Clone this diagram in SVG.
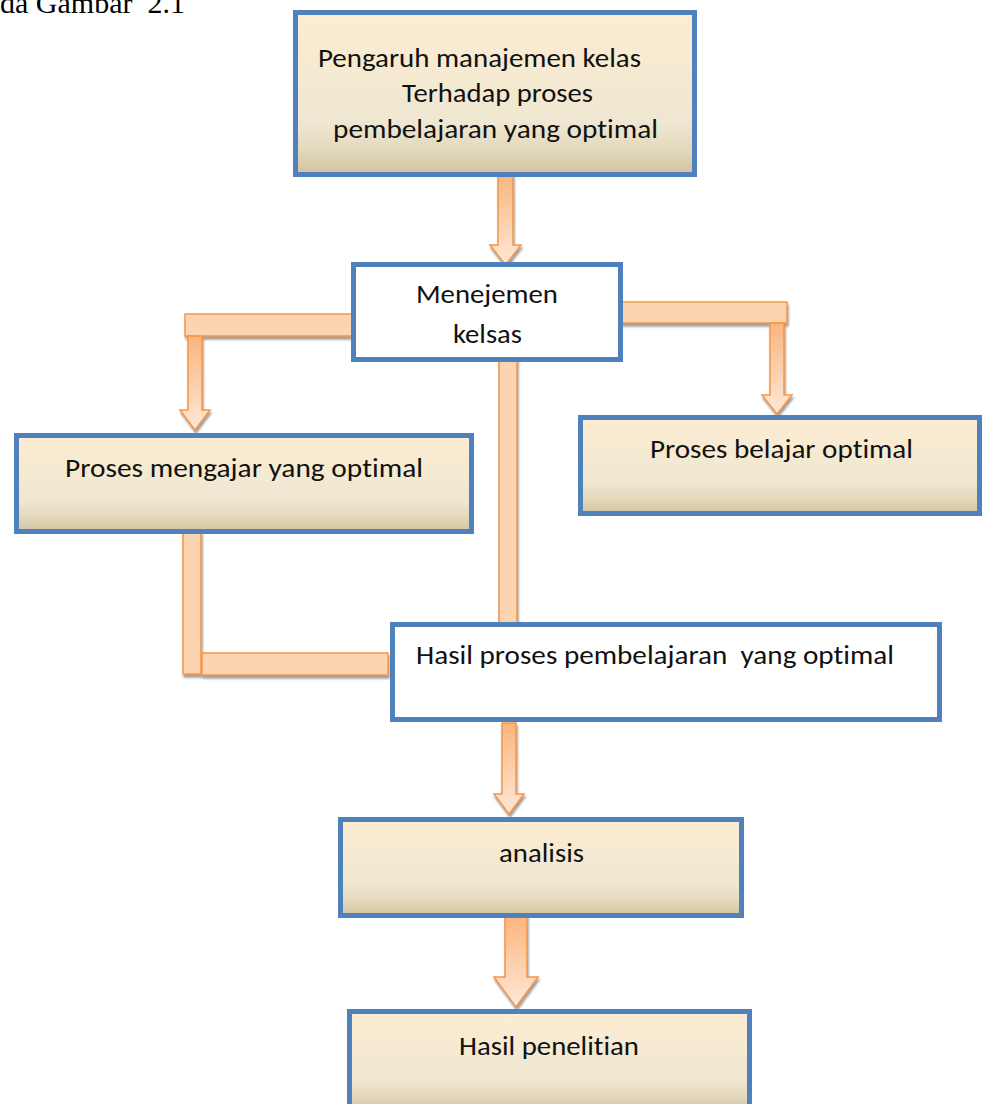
<svg xmlns="http://www.w3.org/2000/svg" width="982" height="1104" viewBox="0 0 982 1104">
  <defs>
    <linearGradient id="tan" x1="0" y1="0" x2="0" y2="1">
      <stop offset="0" stop-color="#fdedd1"/>
      <stop offset="0.68" stop-color="#efe7d2"/>
      <stop offset="0.85" stop-color="#e3d8bb"/>
      <stop offset="1" stop-color="#d2c3a0"/>
    </linearGradient>
    <linearGradient id="arr" x1="0" y1="0" x2="0" y2="1">
      <stop offset="0" stop-color="#fbb57c"/>
      <stop offset="1" stop-color="#fee8d8"/>
    </linearGradient>
    <filter id="sh" x="-20%" y="-20%" width="140%" height="140%">
      <feDropShadow dx="1" dy="3" stdDeviation="0.8" flood-color="#808080" flood-opacity="0.75"/>
    </filter>
  </defs>
  <style>
    .box { stroke: #4f81bd; stroke-width: 5; }
    .tan { fill: url(#tan); }
    .white { fill: #ffffff; }
    .t { font-family: Carlito, Calibri, Lato, "Open Sans", sans-serif; font-size: 27px; fill: #111111; font-variant-ligatures: none; }
    .arrow { fill: url(#arr); stroke: #f79646; stroke-width: 1.5; stroke-linejoin: miter; }
    .bar { fill: #fdd4b2; stroke: #f79646; stroke-width: 1.5; }
    .cap { font-family: "Liberation Serif", "Times New Roman", serif; font-size: 30px; fill: #000000; }
  </style>

  <text class="cap" x="0" y="13" xml:space="preserve">da Gambar  2.1</text>

  <g id="connectors" filter="url(#sh)">
    <polygon class="arrow" points="498,174 513,174 513,245 521,245 505.5,265 490,245 498,245"/>
    <rect class="bar" x="185" y="314" width="167" height="22"/>
    <polygon class="arrow" points="188,336 202,336 202,410 210,410 195,430 180,410 188,410"/>
    <rect class="bar" x="620" y="302" width="167" height="21"/>
    <polygon class="arrow" points="770,323 784,323 784,395 792,395 777,414 762,395 770,395"/>
    <rect class="bar" x="499" y="359" width="18" height="264"/>
    <rect class="bar" x="183" y="523" width="18" height="151"/>
    <rect class="bar" x="202" y="653" width="186" height="22"/>
    <polygon class="arrow" points="502,723 516,723 516,794 524,794 509,814 494,794 502,794"/>
    <polygon class="arrow" points="505,915 527,915 527,977 538,977 516,1007 494,977 505,977"/>
  </g>

  <g id="node-top">
    <rect class="box tan" x="295.5" y="12.5" width="399" height="162"/>
    <text class="t" x="318" y="67" textLength="323" lengthAdjust="spacingAndGlyphs">Pengaruh manajemen kelas</text>
    <text class="t" x="402" y="102" textLength="191" lengthAdjust="spacingAndGlyphs">Terhadap proses</text>
    <text class="t" x="333" y="138" textLength="325" lengthAdjust="spacingAndGlyphs">pembelajaran yang optimal</text>
  </g>

  <g id="node-menejemen">
    <rect class="box white" x="353.5" y="264.5" width="267" height="95"/>
    <text class="t" x="416" y="303" textLength="142" lengthAdjust="spacingAndGlyphs">Menejemen</text>
    <text class="t" x="453" y="343" textLength="69" lengthAdjust="spacingAndGlyphs">kelsas</text>
  </g>

  <g id="node-belajar">
    <rect class="box tan" x="580.5" y="417.5" width="399" height="96"/>
    <text class="t" x="650" y="458" textLength="263" lengthAdjust="spacingAndGlyphs">Proses belajar optimal</text>
  </g>

  <g id="node-mengajar">
    <rect class="box tan" x="16.5" y="435.5" width="455" height="96"/>
    <text class="t" x="65" y="477" textLength="358" lengthAdjust="spacingAndGlyphs">Proses mengajar yang optimal</text>
  </g>

  <g id="node-hasil">
    <rect class="box white" x="392.5" y="624.5" width="547" height="95"/>
    <text class="t" x="416" y="664" textLength="478" lengthAdjust="spacingAndGlyphs" xml:space="preserve">Hasil proses pembelajaran  yang optimal</text>
  </g>

  <g id="node-analisis">
    <rect class="box tan" x="340.5" y="819.5" width="401" height="96"/>
    <text class="t" x="499" y="862" textLength="85" lengthAdjust="spacingAndGlyphs">analisis</text>
  </g>

  <g id="node-penelitian">
    <rect class="box tan" x="349.5" y="1011.5" width="400" height="100"/>
    <text class="t" x="459" y="1055" textLength="180" lengthAdjust="spacingAndGlyphs">Hasil penelitian</text>
  </g>
</svg>
